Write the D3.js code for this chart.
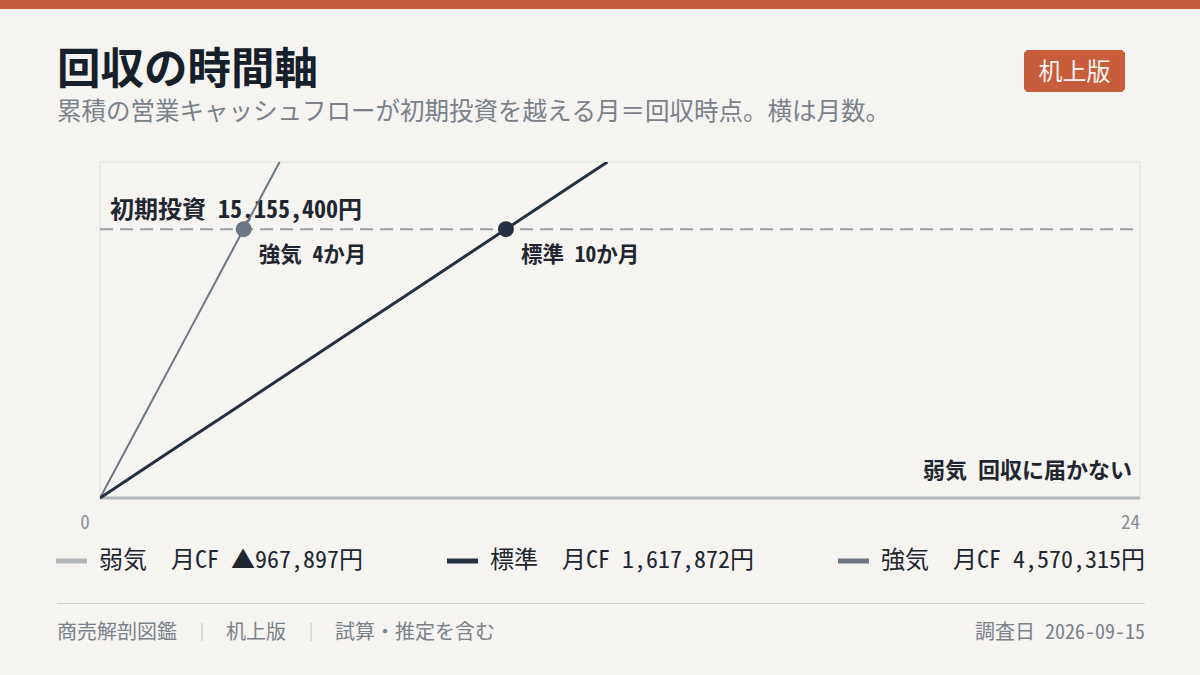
<!DOCTYPE html>
<html><head><meta charset="utf-8">
<script src="https://cdn.jsdelivr.net/npm/d3@7"></script>
<style>
html,body{margin:0;padding:0;background:#f5f4f0;}
svg{display:block;font-family:"Noto Sans Mono CJK JP","Noto Sans CJK JP","Noto Sans",sans-serif;}
text{white-space:pre;}
</style></head><body>
<svg id="c" width="1200" height="675"></svg>
<script>
const scenarios = ["弱気", "標準", "強気"];
const monthlyCF = [-967897, 1617872, 4570315];
const paybackLabels = ["回収に届かない", "10か月", "4か月"];
const colors = ["#b3b7bb", "#253040", "#6d7783"];
const initialInvestment = 15155400;
const months = d3.range(0, 25);
const xTicks = [0, 24];

const W = 1200, H = 675;
const svg = d3.select("#c");
svg.append("rect").attr("width", W).attr("height", H).attr("fill", "#f5f4f0");
svg.append("rect").attr("width", W).attr("height", 9).attr("fill", "#c85d3c");

svg.append("text").attr("x", 57).attr("y", 84).attr("font-size", 43.5).attr("font-weight", 700)
  .attr("fill", "#16202a").text("回収の時間軸");
svg.append("text").attr("x", 57).attr("y", 120).attr("font-size", 24.5).attr("fill", "#7a818b")
  .text("累積の営業キャッシュフローが初期投資を越える月＝回収時点。横は月数。");

// badge
const bx = 1024, by = 50, bw = 101, bh = 42, c = 3;
svg.append("path").attr("fill", "#c85d3c")
  .attr("d", `M${bx+c},${by}H${bx+bw-c}L${bx+bw},${by+c}V${by+bh-c}L${bx+bw-c},${by+bh}H${bx+c}L${bx},${by+bh-c}V${by+c}Z`);
svg.append("text").attr("x", bx + bw/2).attr("y", by + 30).attr("text-anchor", "middle")
  .attr("font-size", 24).attr("font-weight", 500).attr("fill", "#fbf6f2").text("机上版");

// plot
const L = 100, R = 1140, T = 162, B = 498;
const x = d3.scaleLinear().domain([0, 24]).range([L, R]);
const y = d3.scaleLinear().domain([0, initialInvestment * 1.25]).range([B, T]).clamp(true);

svg.append("rect").attr("x", L).attr("y", T).attr("width", R - L).attr("height", B - T)
  .attr("fill", "none").attr("stroke", "#e2e1dc").attr("stroke-width", 1);

svg.append("defs").append("clipPath").attr("id", "clip")
  .append("rect").attr("x", L).attr("y", T).attr("width", R - L).attr("height", B - T + 4);

// investment line
svg.append("line").attr("x1", L).attr("x2", R).attr("y1", y(initialInvestment)).attr("y2", y(initialInvestment))
  .attr("stroke", "#979ea6").attr("stroke-width", 2).attr("stroke-dasharray", "13,7");
svg.append("text").attr("x", L + 10).attr("y", y(initialInvestment) - 11).attr("font-size", 24)
  .attr("font-weight", 700).attr("fill", "#1f2630")
  .text("初期投資 " + d3.format(",")(initialInvestment) + "円");

const widths = [3, 3, 2];
const g = svg.append("g").attr("clip-path", "url(#clip)");
[0, 2, 1].forEach(i => {
  const pts = months.map(m => [m, m * monthlyCF[i]]);
  const line = d3.line().x(d => x(d[0])).y(d => y(d[1]));
  let data = pts;
  if (monthlyCF[i] > 0) {
    const mTop = y.domain()[1] / monthlyCF[i];
    data = pts.filter(p => p[0] < mTop).concat([[mTop, y.domain()[1]]]);
  }
  g.append("path").datum(data).attr("d", line).attr("fill", "none")
    .attr("stroke", colors[i]).attr("stroke-width", widths[i]);
});

// payback dots and labels
[2, 1].forEach(i => {
  const m = initialInvestment / monthlyCF[i];
  svg.append("circle").attr("cx", x(m)).attr("cy", y(initialInvestment)).attr("r", 8).attr("fill", colors[i]);
  svg.append("text").attr("x", x(m) + 15).attr("y", y(initialInvestment) + 33).attr("font-size", 21.5)
    .attr("font-weight", 700).attr("fill", "#1f2630").text(scenarios[i] + " " + paybackLabels[i]);
});
svg.append("text").attr("x", R - 8).attr("y", B - 20).attr("text-anchor", "end").attr("font-size", 22)
  .attr("font-weight", 700).attr("fill", "#1f2630").text(scenarios[0] + " " + paybackLabels[0]);

// x ticks
xTicks.forEach((t, k) => {
  svg.append("text").attr("x", k === 0 ? x(t) - 15 : x(t)).attr("y", B + 31)
    .attr("text-anchor", k === 0 ? "middle" : "end").attr("font-size", 19).attr("fill", "#8a9098").text(t);
});

// legend
const legX = [56, 447, 838];
scenarios.forEach((s, i) => {
  const v = monthlyCF[i];
  const val = (v < 0 ? "▲" : "") + d3.format(",")(Math.abs(v)) + "円";
  svg.append("line").attr("x1", legX[i]).attr("x2", legX[i] + 31).attr("y1", 561).attr("y2", 561)
    .attr("stroke", colors[i]).attr("stroke-width", 5);
  svg.append("text").attr("x", legX[i] + 43).attr("y", 568).attr("font-size", 24).attr("fill", "#1f2630")
    .text(s + "　月CF " + val);
});

// footer
svg.append("line").attr("x1", 57).attr("x2", 1145).attr("y1", 603.5).attr("y2", 603.5)
  .attr("stroke", "#d6d5d0").attr("stroke-width", 1);
const footItems = [["商売解剖図鑑", 57], ["机上版", 226], ["試算・推定を含む", 335]];
footItems.forEach(([t, fx]) => {
  svg.append("text").attr("x", fx).attr("y", 639).attr("font-size", 20).attr("fill", "#7a818b").text(t);
});
[202, 311].forEach(sx => {
  svg.append("line").attr("x1", sx).attr("x2", sx).attr("y1", 623).attr("y2", 641)
    .attr("stroke", "#c4c6c8").attr("stroke-width", 1.2);
});
svg.append("text").attr("x", 1145).attr("y", 639).attr("text-anchor", "end").attr("font-size", 20)
  .attr("fill", "#7a818b").text("調査日 2026-09-15");
</script>
</body></html>
